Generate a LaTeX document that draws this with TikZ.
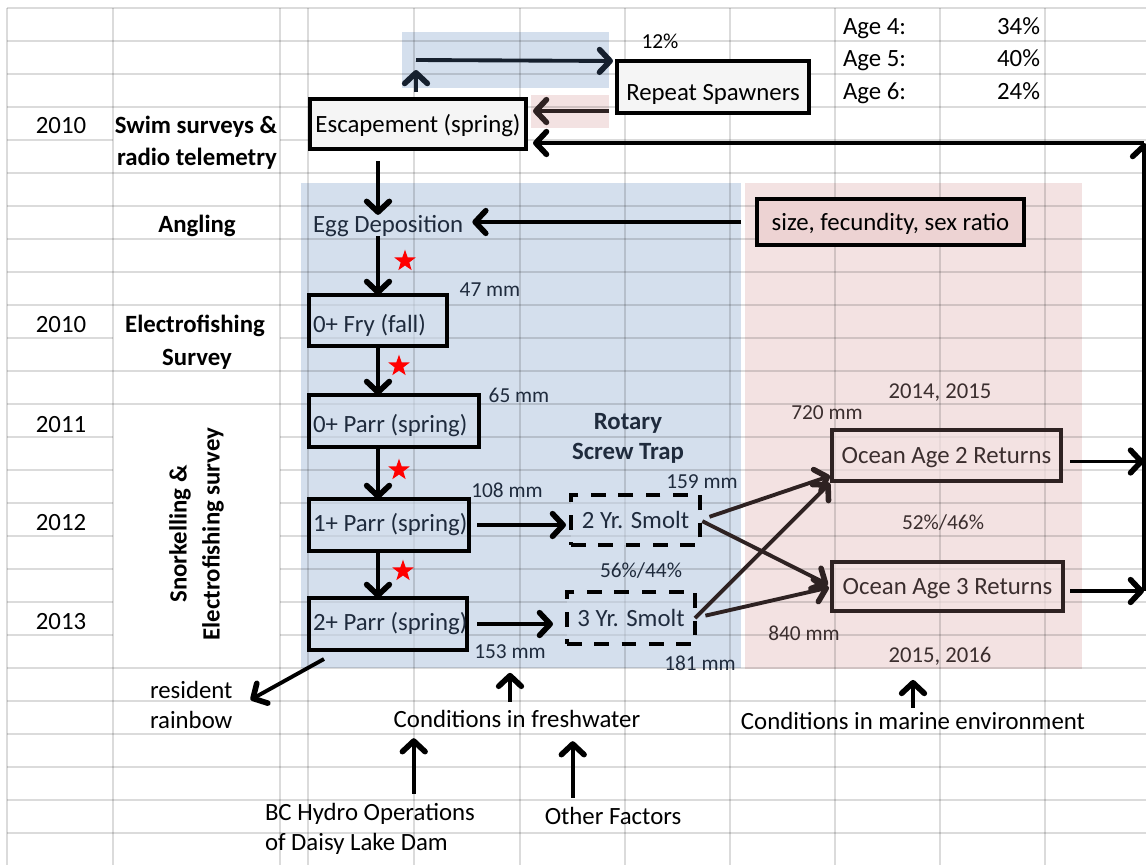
\documentclass[tikz,border=0pt]{standalone}
\usepackage{fontspec}
\setmainfont{Carlito}
\usetikzlibrary{arrows.meta,shapes.geometric,calc}
\definecolor{bluebg}{HTML}{D4DFED}
\definecolor{pinkbg}{HTML}{F3E2E2}
\definecolor{pinkbox}{HTML}{EDD3D3}
\definecolor{navy}{HTML}{1F2B3D}
\definecolor{navyline}{HTML}{16202E}
\definecolor{brownk}{HTML}{2E2222}
\definecolor{browntxt}{HTML}{3B2E2E}
\definecolor{boxgray}{HTML}{F5F5F5}
\begin{document}
\begin{tikzpicture}[x=0.75pt,y=-0.75pt,
  every node/.style={inner sep=0pt, outer sep=0pt},
  main/.style={font=\fontsize{18.6}{22}\selectfont},
  small/.style={font=\fontsize{16}{19}\selectfont},
  mid/.style={font=\fontsize{17}{20}\selectfont},
  bold/.style={font=\fontsize{18.6}{22}\selectfont\bfseries},
  box/.style={draw, line width=3.4pt, main, text height=12pt, text depth=0pt},
  gridline/.style={draw=black, draw opacity=0.14, line width=1.2pt},
  arr/.style={line width=2.9pt, -{Straight Barb[length=8pt,width=17pt,line width=4.2pt,round]}},
  arrnavy/.style={arr, draw=navyline},
  arrb/.style={arr, draw=brownk},
  redstar/.style={star, star points=5, star point ratio=2.5, fill=red, minimum size=17pt, inner sep=0pt}
]
\useasboundingbox (0,0) rectangle (1146,865);
\fill[white] (0,0) rectangle (1146,865);
% shaded regions
\fill[bluebg] (402,32) rectangle (609,88);
\fill[pinkbg] (531,95) rectangle (609,128);
\fill[bluebg] (301,183) rectangle (741,668);
\fill[pinkbg] (745,183) rectangle (1082,669);
% spreadsheet grid
\begin{scope}[gridline]
\foreach \x in {7,113,280,308,414,520,625,730,835,940,1045} \draw (\x,8) -- (\x,865);
\foreach \k in {0,...,25} {\draw (7,8+33*\k) -- (113,8+33*\k); \draw (280,8+33*\k) -- (1146,8+33*\k);}
\foreach \k in {0,1,2,3,5,6,7,8,9,11,12,20,21,22,23,24,25} {\draw (113,8+33*\k) -- (280,8+33*\k);}
\end{scope}

% left column
\node[main, anchor=base] (y2010a) at (61,133) {2010};
\node[bold, anchor=base] (swim1) at (196,133) {Swim surveys \&};
\node[bold, anchor=base] (swim2) at (197,165) {radio telemetry};
\node[bold, anchor=base] (angl) at (197,232) {Angling};
\node[main, anchor=base] (y2010b) at (61,332) {2010};
\node[bold, anchor=base] (ef1) at (195,332) {Electrofishing};
\node[bold, anchor=base] (ef2) at (197,365) {Survey};
\node[main, anchor=base] (y2011) at (61,432) {2011};
\node[main, anchor=base] (y2012) at (61,530) {2012};
\node[main, anchor=base] (y2013) at (61,629) {2013};
\node[bold, rotate=90] (sn1) at (180,534) {Snorkelling \&};
\node[bold, rotate=90] (sn2) at (213,534) {Electrofishing survey};

% top right table
\node[small, anchor=base] (p12) at (660,48) {12\%};
\node[main, anchor=base west] (a4) at (843,34) {Age 4:};
\node[main, anchor=base west] (a5) at (843,66) {Age 5:};
\node[main, anchor=base west] (a6) at (843,99) {Age 6:};
\node[main, anchor=base east] (v4) at (1040,34) {34\%};
\node[main, anchor=base east] (v5) at (1040,66) {40\%};
\node[main, anchor=base east] (v6) at (1040,99) {24\%};

% boxes
\node[box, fill=boxgray, minimum width=162pt, minimum height=37.5pt] (esc) at (418,124) {Escapement (spring)};
\node[box, fill=boxgray, minimum width=144pt, minimum height=39pt] (rep) at (713,87) {\raisebox{-3.75pt}{Repeat Spawners}};
\node[main, anchor=base west, text=navy] (egg) at (313,232) {Egg Deposition};
\node[box, fill=pinkbox, minimum width=200.25pt, minimum height=34.5pt] (size) at (890.5,222) {size, fecundity, sex ratio};
\node[box, fill=bluebg, fill opacity=0.6, text opacity=1, text=navy, inner xsep=3pt, minimum height=38.25pt] (fry) at (378,320.5) {\makebox[97.5pt][l]{\raisebox{-2.8pt}{0+ Fry (fall)}}};
\node[box, fill=bluebg, fill opacity=0.6, text opacity=1, text=navy, inner xsep=3pt, minimum height=39pt] (parr0) at (394,421) {\makebox[121.5pt][l]{\raisebox{-2.4pt}{0+ Parr (spring)}}};
\node[box, fill=bluebg, fill opacity=0.6, text opacity=1, text=navy, inner xsep=3pt, minimum height=39pt] (parr1) at (389,525) {\makebox[114pt][l]{\raisebox{1.5pt}{1+ Parr (spring)}}};
\node[box, fill=bluebg, fill opacity=0.6, text opacity=1, text=navy, inner xsep=3pt, minimum height=39pt] (parr2) at (388,624) {\makebox[112.5pt][l]{\raisebox{1.5pt}{2+ Parr (spring)}}};
\node[box, dash pattern=on 11pt off 9.5pt, fill=bluebg, fill opacity=0.5, text opacity=1, text=navy, minimum width=96.75pt, minimum height=37.5pt] (smolt2) at (635.5,520) {2 Yr. Smolt};
\node[box, dash pattern=on 11pt off 9.5pt, fill=bluebg, fill opacity=0.5, text opacity=1, text=navy, minimum width=96pt, minimum height=39pt] (smolt3) at (631,618) {3 Yr. Smolt};
\node[box, draw=brownk, fill=pinkbg, fill opacity=0.7, text opacity=1, text=browntxt, minimum width=171.75pt, minimum height=38.25pt] (oc2) at (946.5,455.5) {Ocean Age 2 Returns};
\node[box, draw=brownk, fill=pinkbg, fill opacity=0.7, text opacity=1, text=browntxt, minimum width=173.25pt, minimum height=36.75pt] (oc3) at (947.5,586.5) {Ocean Age 3 Returns};

% stars
\node[redstar] (st1) at (405,261) {};
\node[redstar] (st2) at (399,366) {};
\node[redstar] (st3) at (399,470) {};
\node[redstar] (st4) at (403,571) {};

% labels in freshwater region
\node[small, anchor=base, text=navy] (mm47) at (490,296) {47 mm};
\node[small, anchor=base, text=navy] (mm65) at (519,402) {65 mm};
\node[small, anchor=base, text=navy] (mm108) at (507,497) {108 mm};
\node[bold, anchor=base, text=navy] (rot1) at (628,429) {Rotary};
\node[bold, anchor=base, text=navy] (rot2) at (628,459) {Screw Trap};
\node[small, anchor=base, text=navy] (mm159) at (702,488) {159 mm};
\node[small, anchor=base, text=navy] (p5644) at (641,577) {56\%/44\%};
\node[small, anchor=base, text=navy] (mm153) at (510,658) {153 mm};
\node[small, anchor=base, text=navy] (mm181) at (700,670) {181 mm};
% labels in marine region
\node[small, anchor=base, text=browntxt] (mm720) at (827,419) {720 mm};
\node[mid, anchor=base, text=browntxt] (y1415) at (940,398) {2014, 2015};
\node[small, anchor=base, text=browntxt] (p5246) at (943,529) {52\%/46\%};
\node[small, anchor=base, text=browntxt] (mm840) at (804,640) {840 mm};
\node[mid, anchor=base, text=browntxt] (y1516) at (940,662) {2015, 2016};
% bottom labels
\node[main, anchor=base west] (res1) at (150,698) {resident};
\node[main, anchor=base west] (res2) at (150,728) {rainbow};
\node[main, anchor=base] (fresh) at (517,727) {Conditions in freshwater};
\node[main, anchor=base] (marine) at (913,729) {Conditions in marine environment};
\node[main, anchor=base west] (bch1) at (265,820) {BC Hydro Operations};
\node[main, anchor=base west] (bch2) at (265,850) {of Daisy Lake Dam};
\node[main, anchor=base] (other) at (613,824) {Other Factors};

% helper coordinates
\coordinate (tl) at (416,60);
\coordinate (rt) at (1144,143);
\coordinate (rsw) at ($(rep.south west)+(0,-2)$);
\coordinate (bcx) at ($(fresh.south west)+(20,11)$);
\coordinate (ofx) at ($(fresh.south west)+(179,14)$);
\coordinate (o2e) at ($(oc2.east)+(0,6)$);
\coordinate (o3e) at ($(oc3.east)+(0,4.5)$);

% life-cycle arrows
\draw[arr, shorten <=9pt] (esc.south -| fry.north) -- (egg.north -| fry.north);
\draw[arr] (egg.south -| fry.north) -- (fry.north);
\draw[arr] (fry.south) -- (fry.south |- parr0.north);
\draw[arr] (fry.south |- parr0.south) -- (fry.south |- parr1.north);
\draw[arr] (fry.south |- parr1.south) -- (fry.south |- parr2.north);
\draw[arr, shorten <=6pt, shorten >=3.75pt] (parr1.east) -- (parr1.east -| smolt2.west);
\draw[arr, shorten <=7.5pt, shorten >=10.5pt] (parr2.east) -- (parr2.east -| smolt3.west);
\draw[arr] ($(parr2.south west)+(15,9)$) -- ($(res1.north east)+(18,19)$);
\draw[arr, shorten <=6pt, shorten >=11pt] (fresh.north -| mm153.south) -- (mm153.south);
\draw[arr, shorten <=6.75pt] (bch1.north -| bcx) -- (bcx);
\draw[arr, shorten <=6.75pt] (other.north -| ofx) -- (ofx);
\draw[arr, shorten <=3pt, shorten >=11.25pt] (marine.north) -- (marine.north |- y1516.south);
\draw[arr, shorten <=12pt, shorten >=6.75pt] (size.west) -- (size.west -| egg.east);
% repeat spawners
\draw[arrnavy, shorten <=5.25pt, shorten >=7.5pt] (esc.north -| tl) -- (tl);
\draw[arrnavy, shorten >=3pt] (tl) -- (rep.north west);
\draw[arrb, shorten <=6pt, shorten >=5.25pt] (rsw) -- (rsw -| esc.east);
% smolts to ocean
\draw[arrb, shorten <=7.5pt] (smolt2.east) -- ($(oc2.south west)+(-2,-5)$);
\draw[arrb, shorten <=2pt] (smolt2.east) -- ($(oc3.west)+(-4,-2)$);
\draw[arrb] (smolt3.east) -- ($(oc2.south west)+(-2,2)$);
\draw[arrb, shorten <=8pt] (smolt3.east) -- ($(oc3.west)+(-3,1)$);
% return loop
\draw[arr, shorten <=6.75pt] (o2e) -- (o2e -| rt);
\draw[arr, shorten <=5.25pt] (o3e) -- (o3e -| rt);
\draw[arr] (o3e -| rt) -- (rt);
\draw[arr, shorten >=5.25pt] (rt) -- (rt -| esc.east);
\end{tikzpicture}
\end{document}
